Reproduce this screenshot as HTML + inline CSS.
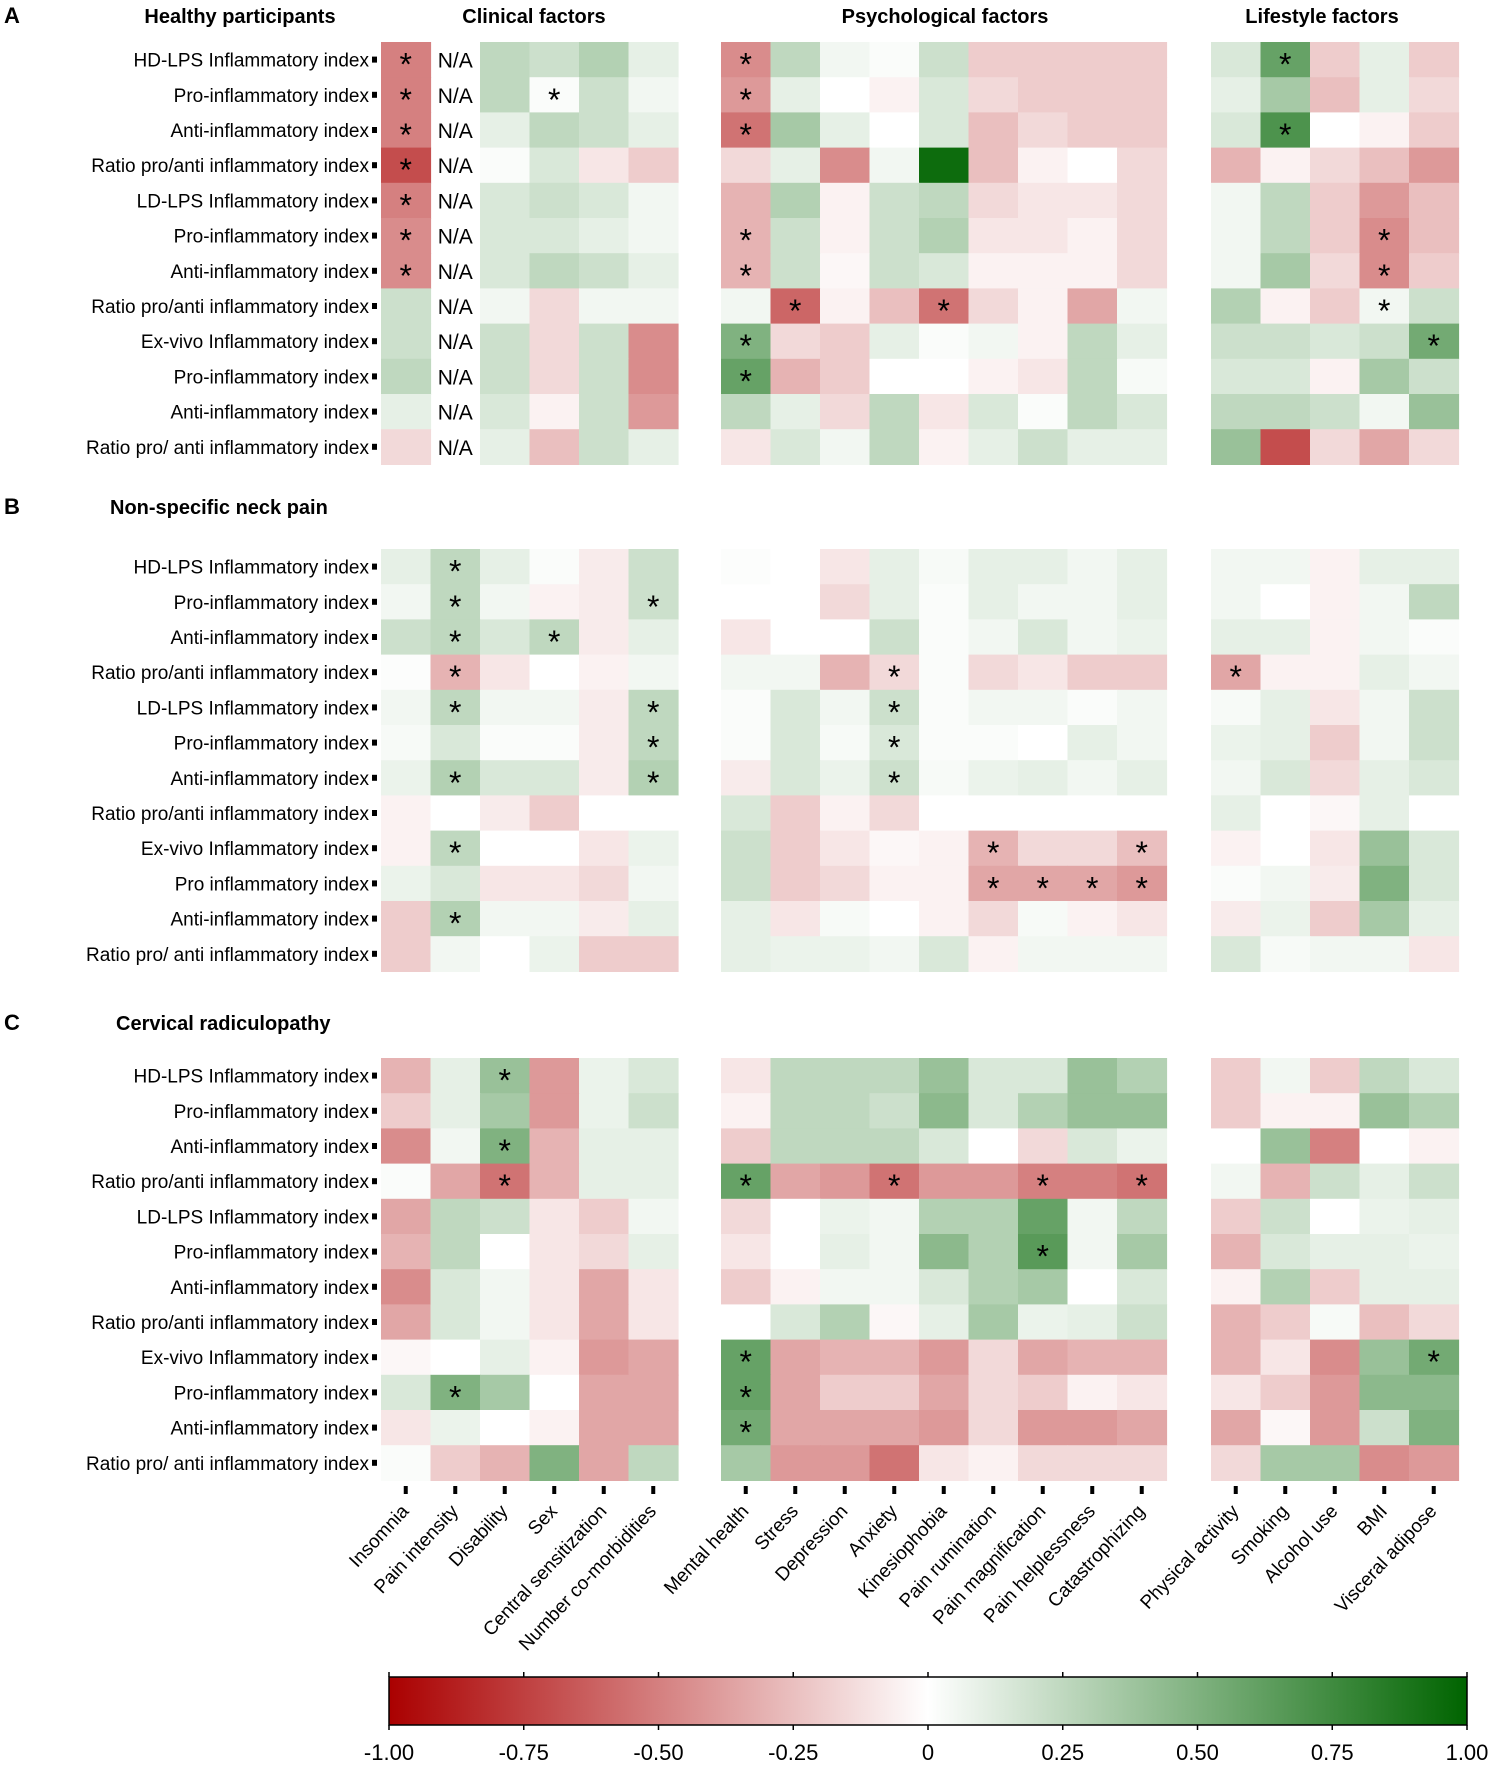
<!DOCTYPE html>
<html><head><meta charset="utf-8"><style>
html,body{margin:0;padding:0;background:#fff}
svg{display:block;font-family:"Liberation Sans",Arial,sans-serif}
</style></head><body>
<svg id="chart" width="1489" height="1772" viewBox="0 0 1489 1772">
<g font-weight="bold" font-size="20">
<text x="4" y="23" font-size="22">A</text>
<text x="240" y="23" text-anchor="middle">Healthy participants</text>
<text x="534" y="23" text-anchor="middle">Clinical factors</text>
<text x="945" y="23" text-anchor="middle">Psychological factors</text>
<text x="1322" y="23" text-anchor="middle">Lifestyle factors</text>
<text x="4" y="514" font-size="22">B</text>
<text x="110" y="514">Non-specific neck pain</text>
<text x="4" y="1030" font-size="22">C</text>
<text x="116" y="1030">Cervical radiculopathy</text>
</g>
<g id="cells"></g>
<g id="labels"></g>
<g id="cbar"></g>
</svg>
<script>
const rowLabels = ["HD-LPS Inflammatory index","Pro-inflammatory index","Anti-inflammatory index","Ratio pro/anti inflammatory index","LD-LPS Inflammatory index","Pro-inflammatory index","Anti-inflammatory index","Ratio pro/anti inflammatory index","Ex-vivo Inflammatory index","Pro-inflammatory index","Anti-inflammatory index","Ratio pro/ anti inflammatory index"];
const rowLabelsB = ["HD-LPS Inflammatory index","Pro-inflammatory index","Anti-inflammatory index","Ratio pro/anti inflammatory index","LD-LPS Inflammatory index","Pro-inflammatory index","Anti-inflammatory index","Ratio pro/anti inflammatory index","Ex-vivo Inflammatory index","Pro inflammatory index","Anti-inflammatory index","Ratio pro/ anti inflammatory index"];
const colLabels = ["Insomnia","Pain intensity","Disability","Sex","Central sensitization","Number co-morbidities","Mental health","Stress","Depression","Anxiety","Kinesiophobia","Pain rumination","Pain magnification","Pain helplessness","Catastrophizing","Physical activity","Smoking","Alcohol use","BMI","Visceral adipose"];
const colGroup = [0,0,0,0,0,0,1,1,1,1,1,1,1,1,1,2,2,2,2,2];
const valuesA = [
[-0.5,null,0.25,0.2,0.3,0.1,-0.45,0.25,0.05,0.02,0.2,-0.2,-0.2,-0.2,-0.2,0.15,0.6,-0.2,0.1,-0.2],
[-0.5,null,0.25,0.02,0.2,0.05,-0.4,0.1,0,-0.05,0.15,-0.15,-0.2,-0.2,-0.2,0.1,0.35,-0.25,0.1,-0.15],
[-0.5,null,0.1,0.25,0.2,0.1,-0.55,0.35,0.1,0,0.15,-0.25,-0.15,-0.2,-0.2,0.15,0.7,0,-0.05,-0.2],
[-0.7,null,0.02,0.15,-0.1,-0.2,-0.15,0.1,-0.45,0.05,0.95,-0.25,-0.05,0,-0.15,-0.3,-0.05,-0.15,-0.25,-0.4],
[-0.5,null,0.15,0.2,0.15,0.05,-0.3,0.3,-0.05,0.2,0.25,-0.15,-0.1,-0.1,-0.15,0.05,0.25,-0.2,-0.4,-0.25],
[-0.45,null,0.15,0.15,0.1,0.05,-0.3,0.2,-0.05,0.2,0.3,-0.1,-0.1,-0.05,-0.15,0.05,0.25,-0.2,-0.45,-0.25],
[-0.45,null,0.15,0.25,0.2,0.1,-0.3,0.2,-0.03,0.2,0.15,-0.05,-0.05,-0.05,-0.15,0.05,0.35,-0.15,-0.45,-0.2],
[0.2,null,0.05,-0.15,0.05,0.05,0.05,-0.6,-0.05,-0.25,-0.55,-0.15,-0.05,-0.35,0.05,0.3,-0.05,-0.2,0.05,0.2],
[0.2,null,0.2,-0.15,0.2,-0.45,0.5,-0.15,-0.2,0.1,0.02,0.05,-0.05,0.25,0.1,0.2,0.2,0.15,0.2,0.55],
[0.25,null,0.2,-0.15,0.2,-0.45,0.6,-0.3,-0.2,0,0,-0.05,-0.1,0.25,0.03,0.15,0.15,-0.05,0.35,0.2],
[0.1,null,0.15,-0.05,0.2,-0.4,0.25,0.1,-0.15,0.25,-0.1,0.15,0.02,0.25,0.15,0.25,0.25,0.2,0.05,0.4],
[-0.15,null,0.1,-0.25,0.2,0.1,-0.1,0.15,0.05,0.25,-0.05,0.1,0.2,0.1,0.1,0.4,-0.7,-0.15,-0.35,-0.15]];
const valuesB = [
[0.1,0.25,0.1,0.02,-0.08,0.2,0.01,0,-0.1,0.1,0.03,0.1,0.1,0.05,0.1,0.05,0.05,-0.05,0.1,0.1],
[0.05,0.25,0.05,-0.05,-0.08,0.2,0,0,-0.15,0.1,0.02,0.1,0.05,0.05,0.1,0.05,0,-0.05,0.05,0.25],
[0.2,0.25,0.15,0.25,-0.08,0.1,-0.1,0,0,0.2,0.02,0.05,0.15,0.05,0.08,0.1,0.1,-0.05,0.05,0.02],
[0.01,-0.3,-0.1,0,-0.05,0.05,0.05,0.05,-0.3,-0.15,0.02,-0.15,-0.1,-0.2,-0.2,-0.35,-0.05,-0.05,0.1,0.05],
[0.05,0.25,0.05,0.05,-0.08,0.25,0.02,0.15,0.05,0.2,0.02,0.05,0.05,0.02,0.05,0.03,0.1,-0.1,0.05,0.2],
[0.03,0.15,0.02,0.02,-0.08,0.25,0.02,0.15,0.03,0.15,0.02,0.02,0,0.1,0.05,0.08,0.1,-0.2,0.05,0.2],
[0.08,0.3,0.15,0.15,-0.08,0.3,-0.08,0.15,0.08,0.2,0.03,0.08,0.1,0.05,0.1,0.05,0.15,-0.15,0.1,0.15],
[-0.05,0,-0.08,-0.2,0,0,0.15,-0.2,-0.05,-0.15,0,0,0,0,0,0.1,0,-0.03,0.1,0],
[-0.05,0.25,0,0,-0.1,0.08,0.2,-0.2,-0.1,-0.03,-0.05,-0.3,-0.15,-0.15,-0.25,-0.05,0,-0.1,0.4,0.15],
[0.08,0.15,-0.1,-0.1,-0.15,0.05,0.2,-0.2,-0.15,-0.05,-0.05,-0.35,-0.35,-0.35,-0.4,0.02,0.05,-0.08,0.5,0.15],
[-0.2,0.3,0.05,0.05,-0.08,0.1,0.1,-0.1,0.03,0,-0.05,-0.15,0.03,-0.05,-0.1,-0.08,0.08,-0.2,0.35,0.1],
[-0.2,0.05,0,0.08,-0.2,-0.2,0.1,0.08,0.08,0.05,0.15,-0.05,0.05,0.05,0.05,0.15,0.03,0.05,0.05,-0.1]];
const valuesC = [
[-0.3,0.1,0.4,-0.4,0.08,0.15,-0.1,0.25,0.25,0.25,0.4,0.15,0.15,0.4,0.3,-0.2,0.05,-0.2,0.25,0.15],
[-0.2,0.1,0.35,-0.4,0.08,0.2,-0.05,0.25,0.25,0.2,0.45,0.15,0.3,0.4,0.4,-0.2,-0.05,-0.05,0.4,0.3],
[-0.45,0.05,0.5,-0.3,0.1,0.1,-0.2,0.25,0.25,0.25,0.15,0,-0.15,0.15,0.08,0,0.4,-0.5,0,-0.05],
[0.02,-0.35,-0.55,-0.3,0.1,0.1,0.6,-0.35,-0.4,-0.55,-0.4,-0.4,-0.5,-0.5,-0.55,0.05,-0.3,0.2,0.1,0.2],
[-0.35,0.25,0.2,-0.1,-0.2,0.05,-0.15,0,0.08,0.05,0.3,0.3,0.6,0.05,0.25,-0.2,0.2,0,0.08,0.1],
[-0.3,0.25,0,-0.1,-0.15,0.1,-0.1,0,0.1,0.05,0.45,0.3,0.65,0.05,0.35,-0.3,0.15,0.1,0.1,0.08],
[-0.45,0.15,0.05,-0.1,-0.35,-0.1,-0.2,-0.05,0.05,0.05,0.15,0.3,0.35,0,0.15,-0.05,0.3,-0.2,0.1,0.1],
[-0.35,0.15,0.05,-0.1,-0.35,-0.1,0,0.15,0.3,-0.03,0.1,0.35,0.08,0.1,0.2,-0.3,-0.2,0.03,-0.25,-0.15],
[-0.03,0,0.1,-0.05,-0.4,-0.35,0.6,-0.35,-0.3,-0.3,-0.4,-0.15,-0.35,-0.3,-0.3,-0.3,-0.1,-0.45,0.4,0.55],
[0.15,0.5,0.35,0,-0.35,-0.35,0.6,-0.35,-0.2,-0.2,-0.35,-0.15,-0.2,-0.05,-0.1,-0.1,-0.2,-0.4,0.45,0.45],
[-0.1,0.08,0,-0.05,-0.35,-0.35,0.55,-0.35,-0.35,-0.35,-0.4,-0.15,-0.4,-0.4,-0.35,-0.35,-0.03,-0.4,0.2,0.5],
[0.02,-0.2,-0.3,0.5,-0.35,0.25,0.35,-0.4,-0.4,-0.55,-0.1,-0.05,-0.15,-0.15,-0.15,-0.15,0.35,0.35,-0.45,-0.4]];
const starsA = [[0,0],[0,6],[0,16],[1,0],[1,3],[1,6],[2,0],[2,6],[2,16],[3,0],[4,0],[5,0],[5,6],[5,18],[6,0],[6,6],[6,18],[7,7],[7,10],[7,18],[8,6],[8,19],[9,6]];
const starsB = [[0,1],[1,1],[1,5],[2,1],[2,3],[3,1],[3,9],[3,15],[4,1],[4,5],[4,9],[5,5],[5,9],[6,1],[6,5],[6,9],[8,1],[8,11],[8,14],[9,11],[9,12],[9,13],[9,14],[10,1]];
const starsC = [[0,2],[2,2],[3,2],[3,6],[3,9],[3,12],[3,14],[5,12],[8,6],[8,19],[9,1],[9,6],[10,6]];
const cbarTicks = [-1,-0.75,-0.5,-0.25,0,0.25,0.5,0.75,1];
const cbarTickLabels = ["-1.00","-0.75","-0.50","-0.25","0","0.25","0.50","0.75","1.00"];

const NS="http://www.w3.org/2000/svg";
const gCells=document.getElementById('cells'), gLab=document.getElementById('labels'), gBar=document.getElementById('cbar');
const CW=49.5, RH=35.2, blockX=[381,721,1211];
function colX(c){let g=colGroup[c];let first=colGroup.indexOf(g);return blockX[g]+(c-first)*CW;}
function rowY(top,r){return top+r*RH;}
function color(v){
  let a=Math.min(1,Math.abs(v));
  let end=v<0?[170,0,0]:[0,100,0];
  let c=end.map(e=>Math.round(255+(e-255)*a));
  return `rgb(${c[0]},${c[1]},${c[2]})`;
}
function mk(tag,attrs,parent){const e=document.createElementNS(NS,tag);for(const k in attrs)e.setAttribute(k,attrs[k]);parent.appendChild(e);return e;}
const panels=[{top:42,vals:valuesA,stars:starsA,labels:rowLabels},{top:549,vals:valuesB,stars:starsB,labels:rowLabelsB},{top:1058,vals:valuesC,stars:starsC,labels:rowLabels}];
panels.forEach(p=>{
  p.vals.forEach((row,r)=>{
    const y=rowY(p.top,r);
    const lab=mk('text',{x:369,y:y+RH/2+7,'text-anchor':'end','font-size':19},gLab);
    lab.textContent=p.labels[r];
    
    
    const m=mk('rect',{x:372,y:y+RH/2-3,width:5,height:6,fill:'#000'},gLab);
    
    
    row.forEach((v,c)=>{
      const x=colX(c);
      if(v===null){
        const t=mk('text',{x:x+CW/2,y:y+RH/2+8,'text-anchor':'middle','font-size':21},gCells);
        t.textContent='N/A';
        
        
        return;
      }
      const rc=mk('rect',{x:x,y:y,width:CW+0.6,height:RH+0.6,fill:color(v)},gCells);
      
      
    });
  });
  p.stars.forEach(([r,c])=>{
    const t=mk('text',{x:colX(c)+CW/2,y:rowY(p.top,r)+RH/2+16,'text-anchor':'middle','font-size':32},gCells);
    t.textContent='*';
    
    
  });
});
colLabels.forEach((name,c)=>{
  const cx=colX(c)+CW/2;
  const tk=mk('rect',{x:cx-2,y:1486,width:4,height:8,fill:'#000'},gLab);
  
  
  const t=mk('text',{x:cx+4,y:1512,'text-anchor':'end','font-size':19,transform:`rotate(-47 ${cx+4} 1512)`},gLab);
  t.textContent=name;
  
  
});
const bx0=389,bx1=1467,by=1677,bh=48;
function barX(v){return bx0+(v+1)/2*(bx1-bx0);}
const defs=mk('defs',{},gBar);
const lg=mk('linearGradient',{id:'grad',x1:0,x2:1,y1:0,y2:0},defs);
mk('stop',{offset:'0','stop-color':color(-1)},lg);
mk('stop',{offset:'0.5','stop-color':'#ffffff'},lg);
mk('stop',{offset:'1','stop-color':color(1)},lg);
const bar=mk('rect',{x:bx0,y:by,width:bx1-bx0,height:bh,fill:'url(#grad)',stroke:'#000','stroke-width':1.5},gBar);


cbarTicks.forEach((v,i)=>{
  const x=barX(v);
  const tk=mk('line',{x1:x,x2:x,y1:by-5,y2:by,stroke:'#000','stroke-width':1.5},gBar);
  
  
  const tk2=mk('line',{x1:x,x2:x,y1:by+bh,y2:by+bh+5,stroke:'#000','stroke-width':1.5},gBar);
  
  
  const t=mk('text',{x:x,y:1760,'text-anchor':'middle','font-size':22},gBar);
  t.textContent=cbarTickLabels[i];
  
  
});
</script>
</body></html>
